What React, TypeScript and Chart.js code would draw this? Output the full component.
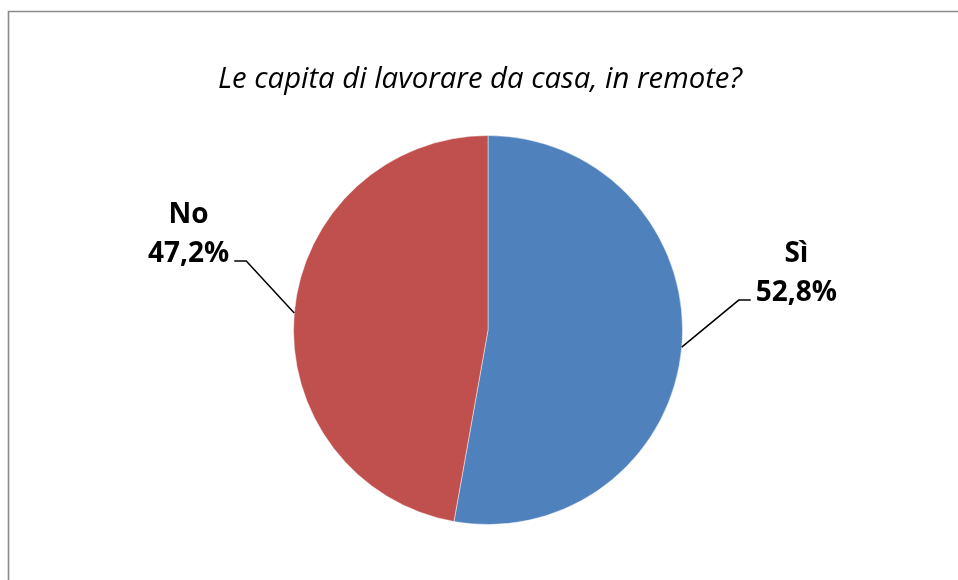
import React, { useEffect, useRef } from "react";
import { Chart, registerables } from "chart.js";

Chart.register(...registerables);

const categories = ["Sì", "No"];
const values = [52.8, 47.2];
const percentLabels = ["52,8%", "47,2%"];
const colors = ["#4F81BD", "#C0504D"];
const titleText = "Le capita di lavorare da casa, in remote?";

const W = 958;
const H = 580;

const framePlugin = {
  id: "framePlugin",
  beforeDraw(chart: any) {
    const ctx = chart.ctx;
    ctx.save();
    ctx.fillStyle = "#ffffff";
    ctx.fillRect(0, 0, W, H);
    ctx.strokeStyle = "#8a8a8a";
    ctx.lineWidth = 1.6;
    ctx.beginPath();
    ctx.moveTo(8.5, H + 5);
    ctx.lineTo(8.5, 11.5);
    ctx.lineTo(W + 5, 11.5);
    ctx.stroke();
    ctx.restore();
  },
};

const titlePlugin = {
  id: "titlePlugin",
  afterDraw(chart: any) {
    const ctx = chart.ctx;
    ctx.save();
    const target = 524;
    let size = 24;
    ctx.font = `italic ${size}px "Open Sans"`;
    const w = ctx.measureText(titleText).width;
    size = (size * target) / w;
    ctx.font = `italic ${size}px "Open Sans"`;
    ctx.fillStyle = "#000000";
    ctx.textAlign = "center";
    ctx.textBaseline = "alphabetic";
    ctx.fillText(titleText, 480, 88);
    ctx.restore();
  },
};

// elbow offsets (from the slice's outer mid point) and label side
const leaderOffsets = [
  { dx: 57, dy: -47, side: 1 },
  { dx: -48, dy: -52, side: -1 },
];

const labelPlugin = {
  id: "labelPlugin",
  afterDatasetsDraw(chart: any) {
    const ctx = chart.ctx;
    const meta = chart.getDatasetMeta(0);
    ctx.save();
    meta.data.forEach((arc: any, i: number) => {
      const p = arc.getProps(["x", "y", "startAngle", "endAngle", "outerRadius"], true);
      const mid = (p.startAngle + p.endAngle) / 2;
      const ex = p.x + Math.cos(mid) * p.outerRadius;
      const ey = p.y + Math.sin(mid) * p.outerRadius;
      const o = leaderOffsets[i];
      const bx = ex + o.dx;
      const by = ey + o.dy;
      const hx = bx + o.side * 12;
      ctx.strokeStyle = "#000000";
      ctx.lineWidth = 1.5;
      ctx.beginPath();
      ctx.moveTo(ex, ey);
      ctx.lineTo(bx, by);
      ctx.lineTo(hx, by);
      ctx.stroke();

      ctx.font = `bold 28px "Open Sans"`;
      ctx.fillStyle = "#000000";
      ctx.textBaseline = "alphabetic";
      const pct = percentLabels[i];
      const pw = ctx.measureText(pct).width;
      const tx = o.side > 0 ? hx + 5 : hx - 5 - pw;
      const ty = by + 1;
      ctx.textAlign = "left";
      ctx.fillText(pct, tx, ty);
      ctx.textAlign = "center";
      ctx.fillText(categories[i], tx + pw / 2, ty - 39);
    });
    ctx.restore();
  },
};

export default function App() {
  const ref = useRef<HTMLCanvasElement | null>(null);
  useEffect(() => {
    if (!ref.current) return;
    const chart = new Chart(ref.current, {
      type: "pie",
      data: {
        labels: categories,
        datasets: [
          {
            data: values,
            backgroundColor: colors,
            borderColor: "rgba(255,255,255,0.45)",
            borderWidth: 1,
          },
        ],
      },
      options: {
        responsive: false,
        animation: false,
        layout: { padding: { left: 293, right: 275, top: 135, bottom: 55 } },
        plugins: {
          legend: { display: false },
          title: { display: false },
          tooltip: { enabled: false },
        },
      },
      plugins: [framePlugin, titlePlugin, labelPlugin],
    });
    return () => chart.destroy();
  }, []);
  return (
    <div style={{ position: "fixed", left: 0, top: 0, width: W, height: H, background: "#fff" }}>
      <canvas ref={ref} width={W} height={H} style={{ width: W, height: H, display: "block" }} />
    </div>
  );
}
